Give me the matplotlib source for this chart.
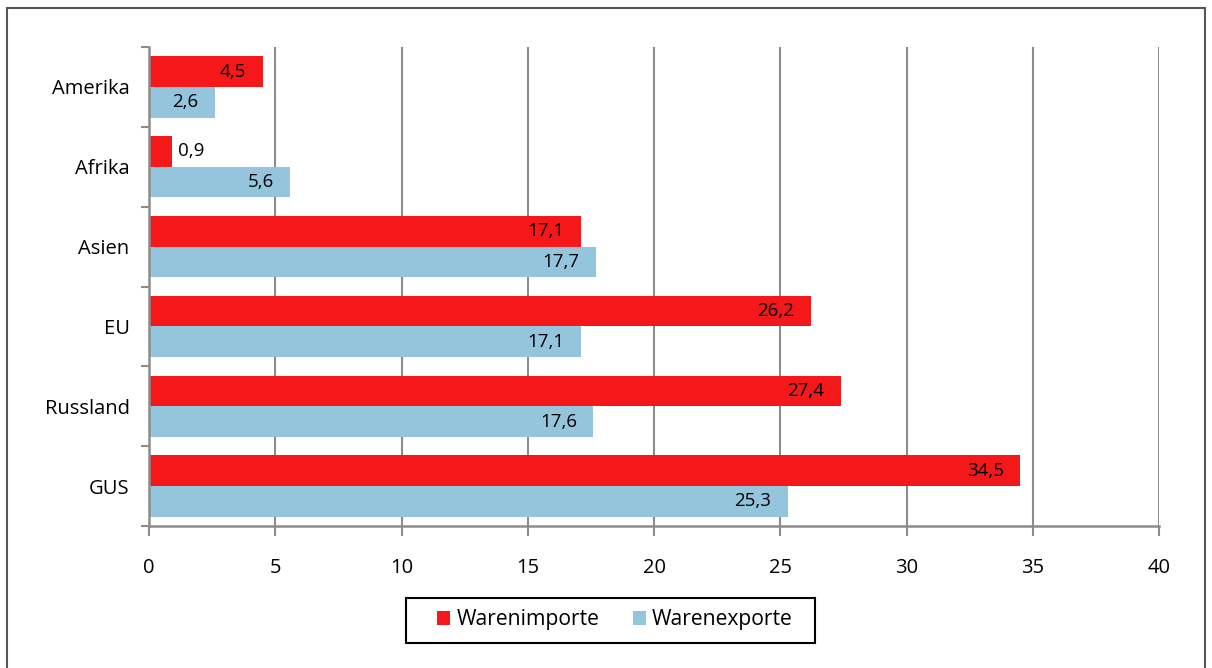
import matplotlib
matplotlib.use('Agg')
import numpy as np
import matplotlib.pyplot as plt
from matplotlib.patches import Rectangle

regions = ['GUS', 'Russland', 'EU', 'Asien', 'Afrika', 'Amerika']
imports = [34.5, 27.4, 26.2, 17.1, 0.9, 4.5]
exports = [25.3, 17.6, 17.1, 17.7, 5.6, 2.6]
series_names = ['Warenimporte', 'Warenexporte']

red = '#F5181A'
blue = '#94C5DC'
axis_grey = '#8C8C8C'

plt.rcParams['font.family'] = ['Open Sans', 'DejaVu Sans']

W, H = 1212, 668
fig = plt.figure(figsize=(W / 100, H / 100), dpi=100)
ax = fig.add_axes([149 / W, 1 - 526 / H, (1159 - 149) / W, (526 - 47) / H])

y = np.arange(len(regions))
h = 0.385
bars_imp = ax.barh(y + h / 2, imports, height=h, color=red, label=series_names[0])
bars_exp = ax.barh(y - h / 2, exports, height=h, color=blue, label=series_names[1])

# value labels, inside end unless the bar is too short
for bars, vals in ((bars_imp, imports), (bars_exp, exports)):
    for b, v in zip(bars, vals):
        yc = b.get_y() + b.get_height() / 2
        txt = f"{v:.1f}".replace('.', ',')
        if v < 2:
            ax.text(v + 0.25, yc, txt, ha='left', va='center', fontsize=13.5, color='black')
        else:
            ax.text(v - 0.65, yc, txt, ha='right', va='center', fontsize=13.5, color='black')

ax.set_xlim(0, 40)
ax.set_ylim(-0.5, len(regions) - 0.5)
ax.set_xticks(np.arange(0, 41, 5))
ax.set_xticklabels([str(t) for t in range(0, 41, 5)], fontsize=14.5)
ax.xaxis.grid(True, color=axis_grey, linewidth=1.5)
ax.set_axisbelow(True)

# category labels between boundary ticks
ax.set_yticks(np.arange(-0.5, len(regions), 1.0))
ax.set_yticklabels([])
ax.set_yticks(y, minor=True)
ax.set_yticklabels(regions, minor=True, fontsize=14.5)
ax.tick_params(axis='y', which='minor', length=0, pad=14)
ax.tick_params(axis='y', which='major', length=6, width=1.5, color=axis_grey)
ax.tick_params(axis='x', length=7, width=1.5, color=axis_grey, pad=16)

for side in ('top', 'right'):
    ax.spines[side].set_visible(False)
for side in ('left', 'bottom'):
    ax.spines[side].set_color(axis_grey)
    ax.spines[side].set_linewidth(1.8)

leg = fig.legend(handles=[bars_imp, bars_exp], labels=series_names, loc='center',
                 bbox_to_anchor=(615 / W, 1 - 620 / H), ncol=2, fontsize=15.2,
                 frameon=False, handlelength=0.6, handleheight=0.6,
                 handletextpad=0.3, columnspacing=1.6, borderpad=0,
                 borderaxespad=0)
# legend box (Excel style, wider on the left)
fig.add_artist(Rectangle((406 / W, 1 - 643 / H), (815 - 406) / W, 45 / H,
                         transform=fig.transFigure, fill=False,
                         edgecolor='black', linewidth=1.5))

# outer frame of the figure
fig.add_artist(Rectangle((7 / W, -0.05), (1205 - 7) / W, 1.05 - 8 / H,
                         transform=fig.transFigure, fill=False,
                         edgecolor='#555555', linewidth=1.5))

fig.savefig('out.png', dpi=100)
